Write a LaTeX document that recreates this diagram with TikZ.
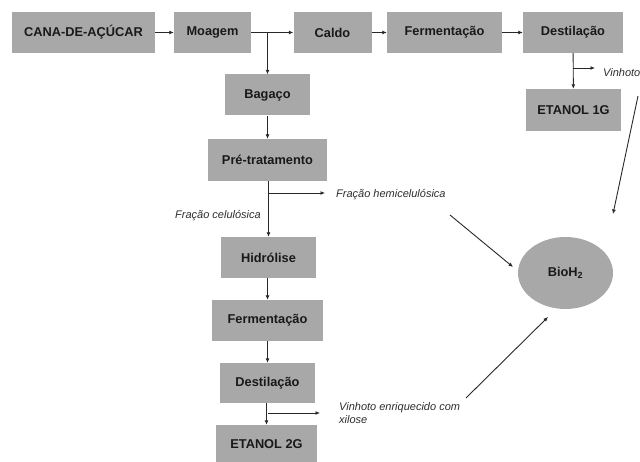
\documentclass[tikz,border=0pt]{standalone}
\usepackage{fontspec}
\setmainfont{Liberation Sans}
\usetikzlibrary{arrows.meta,shapes.geometric}
\definecolor{boxgray}{RGB}{168,168,168}
\definecolor{linegray}{RGB}{40,40,40}
\definecolor{labgray}{RGB}{45,45,45}
\tikzset{
  stagebox/.style={fill=boxgray, minimum height=41pt, inner sep=0pt, font=\fontsize{12.8}{15}\selectfont\bfseries, text=black!90},
  flow/.style={draw=linegray, line width=0.9pt, -{Latex[length=4.5pt,width=4pt]}},
  lab/.style={font=\fontsize{11}{13}\selectfont\itshape, text=labgray, inner sep=0pt}
}
\begin{document}
\begin{tikzpicture}[x=1pt,y=-1pt]
\useasboundingbox (0,0) rectangle (640,462);
% top row
\node[stagebox, minimum width=143pt] (cana) at (83.5,32.5) {CANA-DE-AÇÚCAR};
\node[stagebox, minimum width=77pt] (moagem) at (212.5,32.5) {Moagem};
\node[stagebox, minimum width=78pt] (caldo) at (332.5,32.5) {Caldo};
\node[stagebox, minimum width=115pt] (ferm1) at (444.5,32.5) {Fermentação};
\node[stagebox, minimum width=100pt] (dest1) at (573,32.5) {Destilação};
\node[stagebox, minimum width=95pt, minimum height=42pt] (etanol1) at (573.5,110) {ETANOL 1G};
% left column
\node[stagebox, minimum width=85pt] (bagaco) at (267.5,95) {Bagaço};
\node[stagebox, minimum width=119pt, minimum height=42pt] (pre) at (267.5,160) {Pré-tratamento};
\node[stagebox, minimum width=95pt] (hidro) at (268.5,257.5) {Hidrólise};
\node[stagebox, minimum width=111pt] (ferm2) at (267.5,320.5) {Fermentação};
\node[stagebox, minimum width=95pt, minimum height=40pt] (dest2) at (267.5,383) {Destilação};
\node[stagebox, minimum width=101pt, minimum height=38pt] (etanol2) at (266.5,444) {ETANOL 2G};
% BioH2
\node[ellipse, fill=boxgray, minimum width=95pt, minimum height=72pt, inner sep=0pt, font=\fontsize{12.8}{15}\selectfont\bfseries, text=black!90] (bio) at (565.5,273) {BioH\textsubscript{2}};

% coordinates
\coordinate (split1) at (267.5,32.5);
\coordinate (v1split) at (573,68);
\coordinate (v1end) at (595,68);
\coordinate (hsplit) at (267.5,193);
\coordinate (hend) at (325,193);
\coordinate (v2split) at (267.5,413);
\coordinate (v2end) at (320,413);
\coordinate (d1a) at (638,96);
\coordinate (d1b) at (613,214);
\coordinate (d2a) at (450,215);
\coordinate (d2b) at (513,267);
\coordinate (d3a) at (466,398);
\coordinate (d3b) at (548,317);

% labels
\node[lab, anchor=west] (vinhoto) at (603,73) {Vinhoto};
\node[lab, anchor=west] (hemi) at (336,195) {Fração hemicelulósica};
\node[lab, anchor=east] (celu) at (261,216) {Fração celulósica};
\node[lab, anchor=north west, align=left] (vinx) at (339,402) {Vinhoto enriquecido com\\xilose};

% connectors
\draw[flow] (cana) -- (moagem);
\draw[flow] (moagem) -- (caldo);
\draw[flow] (split1) -- (bagaco);
\draw[flow] (caldo) -- (ferm1);
\draw[flow] (ferm1) -- (dest1);
\draw[flow] (dest1) -- (etanol1);
\draw[flow] (v1split) -- (v1end);
\draw[flow] (bagaco) -- (pre);
\draw[flow] (pre.south -| hidro.north) -- (hidro);
\draw[flow] (hsplit) -- (hend);
\draw[flow] (hidro.south -| ferm2.north) -- (ferm2);
\draw[flow] (ferm2) -- (dest2);
\draw[flow] (dest2.south -| etanol2.north) -- (etanol2);
\draw[flow] (v2split) -- (v2end);
\draw[flow] (d1a) -- (d1b);
\draw[flow] (d2a) -- (d2b);
\draw[flow] (d3a) -- (d3b);
\end{tikzpicture}
\end{document}
